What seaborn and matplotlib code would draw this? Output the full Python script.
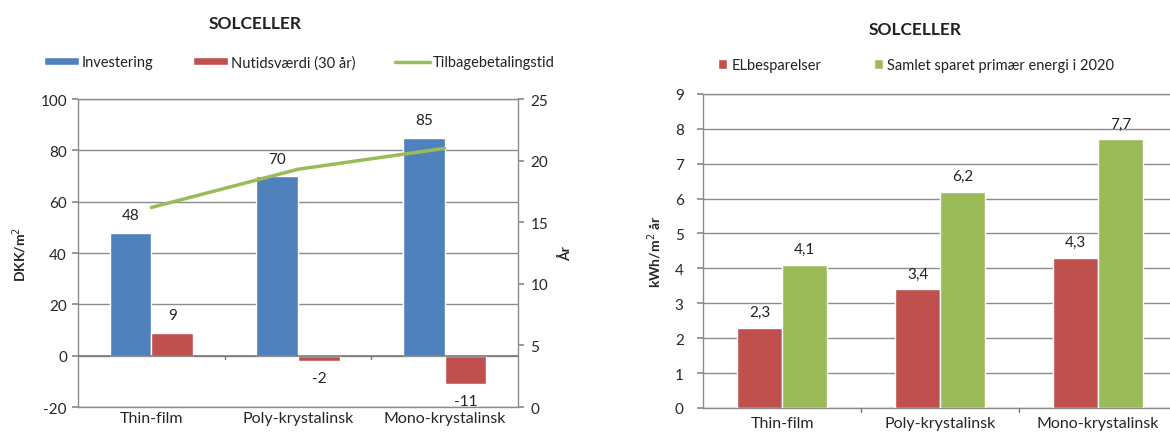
import matplotlib
matplotlib.use("Agg")
import matplotlib.pyplot as plt
import seaborn as sns
import pandas as pd
from matplotlib.patches import Patch
from matplotlib.lines import Line2D

categories = ["Thin-film", "Poly-krystalinsk", "Mono-krystalinsk"]
investering = [48, 70, 85]
nutidsvaerdi = [9, -2, -11]
tilbagebetaling = [16.2, 19.3, 21.0]
elbesparelser = [2.3, 3.4, 4.3]
primaer_energi = [4.1, 6.2, 7.7]

left_series = ["Investering", "Nutidsværdi (30 år)"]
right_series = ["ELbesparelser", "Samlet sparet primær energi i 2020"]
line_label = "Tilbagebetalingstid"

BLUE = "#4F81BD"
RED = "#C0504D"
GREEN = "#9BBB59"
GRID = "#8c8c8c"

sns.set_theme(style="white")
plt.rcParams["font.family"] = ["Lato", "DejaVu Sans"]
plt.rcParams["text.color"] = "#222222"
plt.rcParams["axes.unicode_minus"] = False

TICK_FS = 11
XT_FS = 11.5
LBL_FS = 11
LEG_FS = 10.5

fig = plt.figure(figsize=(11.7, 4.35), dpi=100)

# ---------------- Left chart ----------------
df_left = pd.DataFrame({
    "cat": categories * 2,
    "val": investering + nutidsvaerdi,
    "series": [left_series[0]] * 3 + [left_series[1]] * 3,
})
axL = fig.add_axes([0.0667, 0.062, 0.376, 0.708])
sns.barplot(data=df_left, x="cat", y="val", hue="series", order=categories,
            hue_order=left_series, palette=[BLUE, RED], width=0.57,
            saturation=1, ax=axL, legend=False, zorder=3)
axL.set_ylim(-20, 100)
axL.set_yticks(range(-20, 101, 20))
axL.set_xlim(-0.5, 2.5)
axL.yaxis.grid(True, color=GRID, linewidth=1, zorder=0)
axL.set_axisbelow(True)
for s in axL.spines.values():
    s.set_color(GRID)
    s.set_linewidth(1)
axL.set_xlabel("")
axL.set_ylabel("DKK/m$^2$", fontsize=10, fontweight="bold", labelpad=8)
axL.tick_params(axis="y", labelsize=TICK_FS, length=4, color=GRID, left=True, pad=4)
axL.tick_params(axis="x", labelsize=XT_FS, length=0, pad=3)
axL.axhline(0, color="#7a7a7a", linewidth=1.2, zorder=4)
for xb in [0.5, 1.5]:
    axL.plot([xb, xb], [0, -1.3], color="#7a7a7a", linewidth=1, zorder=4)

for i, v in enumerate(investering):
    axL.text(i - 0.1425, v + 4, f"{v}", ha="center", va="bottom", fontsize=LBL_FS)
for i, v in enumerate(nutidsvaerdi):
    if v >= 0:
        axL.text(i + 0.1425, v + 4, f"{v}", ha="center", va="bottom", fontsize=LBL_FS)
    else:
        axL.text(i + 0.1425, v - 3.8, f"{v}", ha="center", va="top", fontsize=LBL_FS)

axR2 = axL.twinx()
sns.lineplot(x=list(range(3)), y=tilbagebetaling, color=GREEN, linewidth=2.5,
             ax=axR2, zorder=5)
axR2.set_ylim(0, 25)
axR2.set_yticks(range(0, 26, 5))
axR2.set_xlim(-0.5, 2.5)
axR2.grid(False)
for s in axR2.spines.values():
    s.set_visible(False)
axR2.tick_params(axis="y", labelsize=TICK_FS, length=4, color=GRID, right=True, pad=5)
axR2.set_ylabel("År", fontsize=10, fontweight="bold", rotation=90, labelpad=8)

fig.text(0.218, 0.945, "SOLCELLER", ha="center", va="center",
         fontsize=12.5, fontweight="bold")
handlesL = [Patch(facecolor=BLUE, label=left_series[0]),
            Patch(facecolor=RED, label=left_series[1]),
            Line2D([0], [0], color=GREEN, linewidth=2.5, label=line_label)]
fig.legend(handles=handlesL, loc="center", bbox_to_anchor=(0.256, 0.855),
           ncol=3, frameon=False, fontsize=LEG_FS, handlelength=2.4,
           handleheight=0.5, handletextpad=0.2, columnspacing=2.7)

# ---------------- Right chart ----------------
df_right = pd.DataFrame({
    "cat": categories * 2,
    "val": elbesparelser + primaer_energi,
    "series": [right_series[0]] * 3 + [right_series[1]] * 3,
})
axB = fig.add_axes([0.601, 0.060, 0.405, 0.722])
sns.barplot(data=df_right, x="cat", y="val", hue="series", order=categories,
            hue_order=right_series, palette=[RED, GREEN], width=0.57,
            saturation=1, ax=axB, legend=False, zorder=3)
axB.set_ylim(0, 9)
axB.set_yticks(range(0, 10))
axB.set_xlim(-0.5, 2.5)
axB.yaxis.grid(True, color=GRID, linewidth=1, zorder=0)
axB.set_axisbelow(True)
for s in axB.spines.values():
    s.set_color(GRID)
    s.set_linewidth(1)
axB.spines["right"].set_visible(False)
axB.set_xlabel("")
axB.set_ylabel("kWh/m$^2$ år", fontsize=10, fontweight="bold", labelpad=8)
axB.tick_params(axis="y", labelsize=TICK_FS, length=4, color=GRID, left=True, pad=10)
axB.tick_params(axis="x", labelsize=XT_FS, length=0, pad=6)
for xb in [0.5, 1.5]:
    axB.plot([xb, xb], [0, -0.12], color="#7a7a7a", linewidth=1, zorder=4,
             clip_on=False)

def fmt(v):
    return f"{v:.1f}".replace(".", ",")

for i, v in enumerate(elbesparelser):
    axB.text(i - 0.1425, v + 0.25, fmt(v), ha="center", va="bottom", fontsize=LBL_FS)
for i, v in enumerate(primaer_energi):
    axB.text(i + 0.1425, v + 0.25, fmt(v), ha="center", va="bottom", fontsize=LBL_FS)

fig.text(0.782, 0.930, "SOLCELLER", ha="center", va="center",
         fontsize=12.5, fontweight="bold")
handlesR = [Patch(facecolor=RED, label=right_series[0]),
            Patch(facecolor=GREEN, label=right_series[1])]
fig.legend(handles=handlesR, loc="center", bbox_to_anchor=(0.783, 0.848),
           ncol=2, frameon=False, fontsize=LEG_FS, handlelength=0.6,
           handleheight=0.6, handletextpad=0.3, columnspacing=3.6)

fig.savefig("out.png", dpi=100)
